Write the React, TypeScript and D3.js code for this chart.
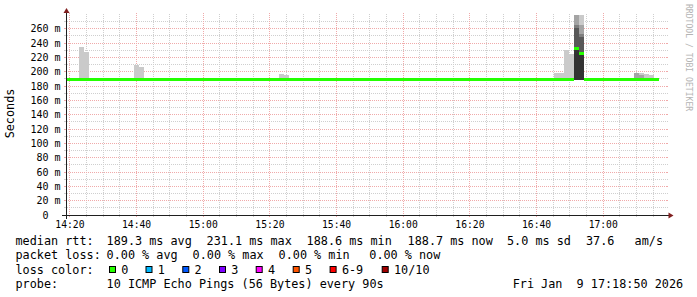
import React from 'react';
import * as d3 from 'd3';

const W = 697;
const H = 297;

// time axis, seconds since midnight
const startSec = 14 * 3600 + 18 * 60 + 50; // 14:18:50
const endSec = 17 * 3600 + 18 * 60 + 50; // 17:18:50
const firstColSec = 14 * 3600 + 18 * 60 + 15; // first 90 s column
const stepSec = 90;

const xTickLabels = ['14:20', '14:40', '15:00', '15:20', '15:40', '16:00', '16:20', '16:40', '17:00'];
const yTickValues = [0, 20, 40, 60, 80, 100, 120, 140, 160, 180, 200, 220, 240, 260];
const yTickLabels = ['0  ', '20 m', '40 m', '60 m', '80 m', '100 m', '120 m', '140 m', '160 m', '180 m', '200 m', '220 m', '240 m', '260 m'];
const yMax = 279.1;

// median rtt (ms) per 90 s column
const median = [
  189.3, 189.3, 189.4, 189.3, 189.2, 189.3, 189.3, 189.3, 189.4, 189.3,
  189.3, 189.3, 189.2, 189.3, 189.3, 189.3, 189.3, 189.4, 189.3, 189.3,
  189.3, 189.2, 189.3, 189.3, 189.3, 189.4, 189.3, 189.3, 189.3, 189.2,
  189.3, 189.3, 189.3, 189.3, 189.4, 189.3, 189.3, 189.2, 189.3, 189.3,
  189.3, 189.3, 189.3, 189.4, 189.3, 189.3, 189.3, 189.3, 189.2, 189.3,
  189.3, 189.3, 189.4, 189.3, 189.3, 189.3, 189.2, 189.3, 189.3, 189.3,
  189.3, 189.4, 189.3, 189.3, 189.3, 189.3, 189.2, 189.3, 189.3, 189.3,
  189.3, 189.3, 189.4, 189.3, 189.3, 189.3, 189.3, 188.6, 189.3, 189.3,
  189.3, 189.3, 189.2, 189.3, 189.4, 189.3, 189.3, 189.3, 189.3, 189.3,
  189.2, 189.3, 189.3, 189.3, 189.4, 189.3, 189.3, 189.3, 189.3, 189.4,
  189.3, 189.3, 232.4, 225.3, 189.2, 189.3, 189.3, 189.3, 189.3, 189.3,
  189.3, 189.2, 189.3, 189.3, 189.4, 189.3, 189.3, 189.3, 188.7,
];

// columns with visible smoke, and their 10 sorted ping rtts (ms)
const smokeCols = [3, 4, 14, 15, 43, 44, 98, 99, 100, 101, 102, 103, 114, 115, 116, 117];
const smokePings = [
  [188.5, 188.8, 189.0, 189.1, 189.2, 189.3, 189.5, 189.7, 190.0, 234.5],
  [188.5, 188.8, 189.0, 189.1, 189.2, 189.3, 189.5, 189.7, 190.0, 227.5],
  [188.5, 188.8, 189.0, 189.1, 189.2, 189.3, 189.5, 189.7, 190.0, 209.8],
  [188.5, 188.8, 189.0, 189.1, 189.2, 189.3, 189.5, 189.7, 190.0, 206.5],
  [188.5, 188.8, 189.0, 189.1, 189.2, 189.3, 189.5, 189.7, 190.0, 197.0],
  [188.5, 188.8, 189.0, 189.1, 189.2, 189.3, 189.5, 189.7, 190.0, 195.8],
  [188.5, 188.8, 189.0, 189.1, 189.2, 189.3, 189.5, 189.7, 190.0, 198.0],
  [188.5, 188.8, 189.0, 189.1, 189.2, 189.3, 189.5, 189.7, 190.0, 197.5],
  [188.5, 188.8, 189.0, 189.1, 189.2, 189.3, 189.5, 189.7, 190.0, 230.2],
  [188.5, 188.8, 189.0, 189.1, 189.2, 189.3, 189.5, 189.7, 190.0, 224.6],
  [188.4, 188.5, 188.6, 188.7, 188.8, 232.4, 260.5, 265.0, 285.0, 300.0],
  [188.4, 188.5, 188.6, 188.7, 188.8, 225.3, 249.0, 252.5, 265.0, 290.0],
  [188.5, 188.8, 189.0, 189.1, 189.2, 189.3, 189.5, 189.7, 198.4, 198.8],
  [188.5, 188.8, 189.0, 189.1, 189.2, 189.3, 189.5, 189.7, 195.2, 197.6],
  [188.5, 188.8, 189.0, 189.1, 189.2, 189.3, 189.5, 189.7, 190.0, 196.3],
  [188.5, 188.8, 189.0, 189.1, 189.2, 189.3, 189.5, 189.7, 190.0, 196.0],
];

const rttAvg = 189.3;
const rttMax = 231.1;
const rttMin = 188.6;
const rttNow = 188.7;
const rttSd = 5.0;
const rttAm = 37.6;
const lossAvg = 0.0;
const lossMax = 0.0;
const lossMin = 0.0;
const lossNow = 0.0;

const lossLabels = ['0', '1', '2', '3', '4', '5', '6-9', '10/10'];
const lossColors = ['#26ff00', '#00b8ff', '#0059ff', '#7e00ff', '#ff00ff', '#ff5500', '#ff0000', '#a10000'];
const lossBoxX = [109, 145.5, 182.3, 219, 255.7, 292.7, 329.6, 381.7];

const smokeShades = ['#cacaca', '#a4a4a4', '#7e7e7e', '#585858', '#323232'];

const X0 = 66;
const X1 = 666;
const Y0 = 215;
const Y1 = 15;

const parseHM = (s: string) => {
  const [h, m] = s.split(':').map(Number);
  return h * 3600 + m * 60;
};

export default function App() {
  const x = d3.scaleLinear().domain([startSec, endSec]).range([X0, X1]);
  const y = d3.scaleLinear().domain([0, yMax]).range([Y0, Y1]);

  const minorY = d3.range(10, yMax, 10).filter((v) => v % 20 !== 0);
  const majorY = yTickValues.filter((v) => v > 0);
  const firstTick = parseHM(xTickLabels[0]);
  const minorX = d3.range(firstTick, endSec, 300).filter((t) => (t - firstTick) % 1200 !== 0);
  const majorX = xTickLabels.map(parseHM);

  const colX = (i: number) => Math.round(x(firstColSec + i * stepSec));
  const fy = (v: number) => Math.floor(y(v)) + 0.5;
  const fx = (t: number) => Math.floor(x(t)) + 0.5;

  const gridMinor = '#cfcfcf';
  const gridMajor = '#f0aaaa';
  const mono = '"DejaVu Sans Mono", monospace';
  const T = (props: any) => <text xmlSpace="preserve" {...props} />;

  return (
    <svg width={W} height={H} style={{ position: 'absolute', left: 0, top: 0 }} xmlns="http://www.w3.org/2000/svg">
      <defs>
        <clipPath id="plot">
          <rect x={X0} y={Y1} width={X1 - X0} height={Y0 - Y1} />
        </clipPath>
      </defs>
      <rect x={0} y={0} width={W} height={H} fill="#ffffff" />

      {/* grid */}
      <g strokeWidth={1} fill="none">
        {minorY.map((v) => (
          <g key={'my' + v}>
            <line x1={X0 - 1} x2={X1 + 1} y1={fy(v)} y2={fy(v)} stroke={gridMinor} strokeDasharray="1,1" />
            <line x1={X0 - 2} x2={X0 - 1} y1={fy(v)} y2={fy(v)} stroke={gridMinor} />
            <line x1={X1 + 1} x2={X1 + 2} y1={fy(v)} y2={fy(v)} stroke={gridMinor} />
          </g>
        ))}
        {minorX.map((t) => (
          <g key={'mx' + t}>
            <line x1={fx(t)} x2={fx(t)} y1={Y1 - 1} y2={Y0 + 1} stroke={gridMinor} strokeDasharray="1,1" />
            <line x1={fx(t)} x2={fx(t)} y1={Y0 + 1} y2={Y0 + 2} stroke={gridMinor} />
          </g>
        ))}
        {majorY.map((v) => (
          <g key={'My' + v}>
            <line x1={X0 - 2} x2={X1 + 2} y1={fy(v)} y2={fy(v)} stroke={gridMajor} strokeDasharray="1,1" />
            <line x1={X0 - 2} x2={X0} y1={fy(v)} y2={fy(v)} stroke={gridMajor} />
            <line x1={X1} x2={X1 + 2} y1={fy(v)} y2={fy(v)} stroke={gridMajor} />
          </g>
        ))}
        {majorX.map((t) => (
          <g key={'Mx' + t}>
            <line x1={fx(t)} x2={fx(t)} y1={Y1 - 2} y2={Y0 + 2} stroke={gridMajor} strokeDasharray="1,1" />
            <line x1={fx(t)} x2={fx(t)} y1={Y0} y2={Y0 + 2} stroke={gridMajor} />
          </g>
        ))}
      </g>

      {/* smoke */}
      <g clipPath="url(#plot)" shapeRendering="crispEdges">
        {smokeCols.map((c, j) => {
          const p = smokePings[j];
          const xa = colX(c);
          const xb = colX(c + 1);
          return smokeShades.map((shade, i) => {
            const hi = y(p[p.length - 1 - i]);
            const lo = y(p[i]);
            return (
              <rect key={c + '-' + i} x={xa} y={hi} width={xb - xa} height={Math.max(0, lo - hi)} fill={shade} />
            );
          });
        })}
      </g>

      {/* median */}
      <g clipPath="url(#plot)" shapeRendering="crispEdges">
        {median.map((m, i) => {
          const xa = colX(i);
          const xb = colX(i + 1);
          const top = Math.round(y(m) - 1.5);
          return <rect key={'m' + i} x={xa} y={top} width={xb - xa} height={3} fill={lossColors[0]} />;
        })}
      </g>

      {/* axes */}
      <line x1={X0 - 4} x2={X1 + 4} y1={Y0 + 0.5} y2={Y0 + 0.5} stroke="#1f1f1f" strokeWidth={1} />
      <line x1={X0 + 0.5} x2={X0 + 0.5} y1={Y0 + 4} y2={Y1 - 4} stroke="#1f1f1f" strokeWidth={1} />
      <polygon
        points={`${X1 + 2.5},${Y0 - 2.5} ${X1 + 2.5},${Y0 + 3.5} ${X1 + 7.5},${Y0 + 0.5}`}
        fill="#801f1f"
      />
      <polygon
        points={`${X0 - 2.5},${Y1 - 2} ${X0 + 3.5},${Y1 - 2} ${X0 + 0.5},${Y1 - 7}`}
        fill="#801f1f"
      />

      {/* axis labels */}
      <g fontFamily={mono} fontSize={10} fill="#000">
        {yTickValues.map((v, i) => (
          <T key={'yl' + v} x={60.5} y={fy(v) + 3.3} textAnchor="end">
            {yTickLabels[i]}
          </T>
        ))}
        {xTickLabels.map((l) => (
          <text key={'xl' + l} x={x(parseHM(l))} y={227.5} textAnchor="middle" fontSize={9.7}>
            {l}
          </text>
        ))}
      </g>

      {/* vertical label */}
      <text
        transform="translate(14,113.5) rotate(-90)"
        textAnchor="middle"
        fontFamily={mono}
        fontSize={11.8}
        fill="#000"
      >
        Seconds
      </text>

      {/* watermark */}
      <text transform="translate(685.5,4) rotate(90)" fontFamily={mono} fontSize={8.1} fill="#b4b4b4">
        RRDTOOL / TOBI OETIKER
      </text>

      {/* legend */}
      <g fontFamily={mono} fontSize={11.8} fill="#000">
        <T x={15.5} y={245}>median rtt:</T>
        <T x={106.6} y={245}>{rttAvg.toFixed(1) + ' ms avg'}</T>
        <T x={206.6} y={245}>{rttMax.toFixed(1) + ' ms max'}</T>
        <T x={306.6} y={245}>{rttMin.toFixed(1) + ' ms min'}</T>
        <T x={407.6} y={245}>{rttNow.toFixed(1) + ' ms now'}</T>
        <T x={507} y={245}>{rttSd.toFixed(1) + ' ms sd'}</T>
        <T x={586} y={245}>{rttAm.toFixed(1)}</T>
        <T x={634.6} y={245}>am/s</T>

        <T x={15.5} y={259.4}>packet loss:</T>
        <T x={106.6} y={259.4}>{lossAvg.toFixed(2) + ' % avg'}</T>
        <T x={192.6} y={259.4}>{lossMax.toFixed(2) + ' % max'}</T>
        <T x={278.6} y={259.4}>{lossMin.toFixed(2) + ' % min'}</T>
        <T x={369.3} y={259.4}>{lossNow.toFixed(2) + ' % now'}</T>

        <T x={15.5} y={273.7}>loss color:</T>
        {lossLabels.map((l, i) => (
          <g key={'lc' + l}>
            <rect x={lossBoxX[i] + 0.5} y={266.5} width={6} height={6} fill={lossColors[i]} stroke="#000" strokeWidth={1} />
            <T x={lossBoxX[i] + 12.3} y={273.7}>{l}</T>
          </g>
        ))}

        <T x={15.5} y={288}>probe:</T>
        <T x={106.6} y={288}>10 ICMP Echo Pings (56 Bytes) every 90s</T>
        <T x={512.7} y={288}>{'Fri Jan  9 17:18:50 2026'}</T>
      </g>
    </svg>
  );
}
